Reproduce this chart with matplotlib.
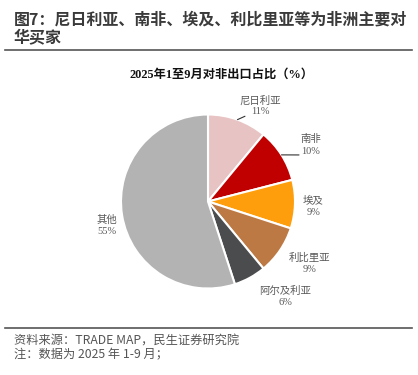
import numpy as np
import matplotlib
matplotlib.use("Agg")
import matplotlib.pyplot as plt

plt.rcParams['font.family'] = ['Noto Sans CJK SC', 'DejaVu Sans']
serif_cjk = ['Liberation Serif', 'Noto Sans CJK SC']

# data
countries = ['尼日利亚', '南非', '埃及', '利比里亚', '阿尔及利亚', '其他']
shares = [11, 10, 9, 9, 6, 55]
colors = ['#E8C3C3', '#C00000', '#FF9E0C', '#BD7943', '#4B4C4E', '#B3B3B3']

# label block centres (pie radius units) and leader ends
label_pos = [(0.60, 1.10), (1.18, 0.65), (1.21, -0.06), (1.17, -0.71), (0.885, -1.09), (-1.16, -0.28)]
leader_end = {0: (0.425, 0.98), 1: (1.046, 0.535)}

W, H = 418, 375
fig = plt.figure(figsize=(W / 100, H / 100), dpi=100)

# header
fig.text(14 / W, 1 - 29 / H, '图7：尼日利亚、南非、埃及、利比里亚等为非洲主要对\n华买家',
         fontsize=11.5, fontweight='bold', color='#3a3a3a', va='center', ha='left', linespacing=1.25)
fig.add_artist(plt.Line2D([5 / W, 412 / W], [1 - 49.5 / H] * 2, color='#555555', lw=1.2))

# footer
fig.add_artist(plt.Line2D([5 / W, 412 / W], [1 - 328 / H] * 2, color='#555555', lw=1.2))
fig.text(14 / W, 1 - 341.5 / H, '资料来源：TRADE MAP，民生证券研究院', fontsize=8.8, color='#555555', va='center')
fig.text(14 / W, 1 - 355 / H, '注：数据为 2025 年 1-9 月；', fontsize=8.8, color='#555555', va='center')

fig.text(222 / W, 1 - 75 / H, '2025年1至9月对非出口占比（%）', fontsize=8.8, fontweight='bold',
         family=serif_cjk, color='#111111', ha='center', va='center')

# pie axes: 87 px per unit, centre at (208, 201.5)
r = 87.0
cx, cy = 208.0, 201.5
ax = fig.add_axes([(cx - 2 * r) / W, (H - cy - 1.5 * r) / H, 4 * r / W, 3 * r / H])
ax.pie(shares, colors=colors, startangle=90, counterclock=False, radius=1,
       wedgeprops=dict(edgecolor='white', linewidth=1.5))
ax.set_xlim(-2, 2)
ax.set_ylim(-1.5, 1.5)
ax.axis('off')

cum = np.cumsum([0] + shares)
for i, (name, v) in enumerate(zip(countries, shares)):
    x, y = label_pos[i]
    ax.text(x, y, f'{name}\n{v}%', ha='center', va='center', fontsize=7.5,
            family=serif_cjk, color='#595959', linespacing=1.3)
    if i in leader_end:
        mid = np.deg2rad(90 - (cum[i] + v / 2) * 3.6)
        ax.annotate('', xy=(np.cos(mid), np.sin(mid)), xytext=leader_end[i],
                    arrowprops=dict(arrowstyle='-', color='#333333', lw=0.8, shrinkA=0, shrinkB=0))

fig.savefig('out.png', dpi=100)
